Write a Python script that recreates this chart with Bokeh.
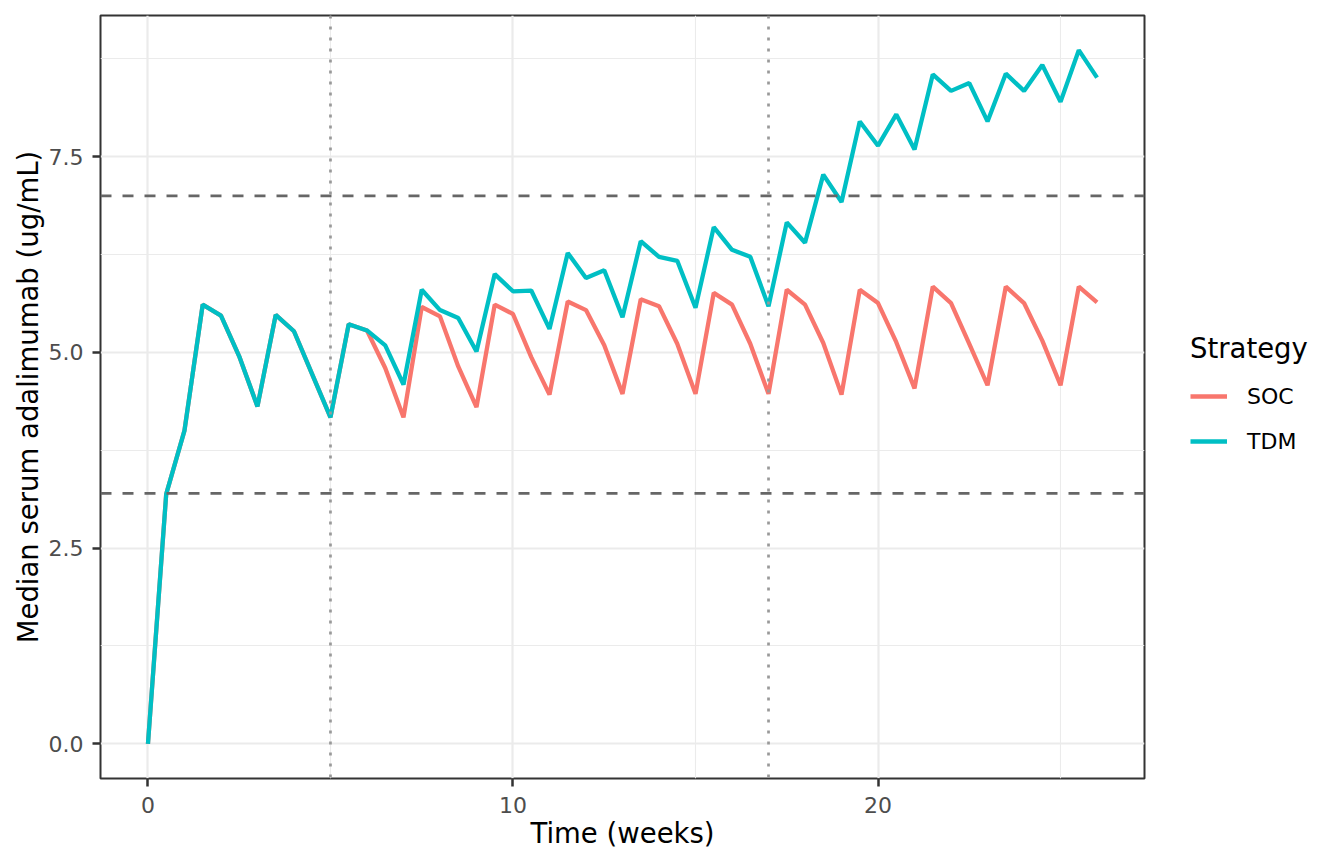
from bokeh.plotting import figure
from bokeh.models import Range1d, FixedTicker, Span, Legend, PrintfTickFormatter
from bokeh.embed import file_html
from bokeh.resources import INLINE

# time in weeks
time = [0, 0.5, 1, 1.5, 2, 2.5, 3, 3.5, 4, 4.5, 5, 5.5, 6, 6.5, 7, 7.5, 8, 8.5, 9,
        9.5, 10, 10.5, 11, 11.5, 12, 12.5, 13, 13.5, 14, 14.5, 15, 15.5, 16, 16.5,
        17, 17.5, 18, 18.5, 19, 19.5, 20, 20.5, 21, 21.5, 22, 22.5, 23, 23.5, 24,
        24.5, 25, 25.5, 26]

soc = [0.0, 3.19, 4.00, 5.61, 5.47, 4.95, 4.31, 5.48, 5.27, 4.72, 4.17, 5.36, 5.28,
       4.80, 4.17, 5.58, 5.46, 4.82, 4.30, 5.61, 5.49, 4.94, 4.46, 5.65, 5.54, 5.09,
       4.47, 5.68, 5.59, 5.11, 4.47, 5.76, 5.61, 5.11, 4.47, 5.80, 5.61, 5.12, 4.46,
       5.80, 5.63, 5.13, 4.54, 5.84, 5.63, 5.11, 4.58, 5.84, 5.63, 5.15, 4.58, 5.84,
       5.64]

tdm = [0.0, 3.19, 4.00, 5.61, 5.47, 4.95, 4.31, 5.48, 5.27, 4.72, 4.17, 5.36, 5.28,
       5.09, 4.59, 5.80, 5.54, 5.44, 5.01, 6.00, 5.78, 5.79, 5.30, 6.27, 5.95, 6.05,
       5.45, 6.42, 6.22, 6.17, 5.57, 6.60, 6.31, 6.22, 5.59, 6.66, 6.40, 7.27, 6.92,
       7.95, 7.64, 8.04, 7.59, 8.55, 8.34, 8.44, 7.95, 8.56, 8.34, 8.67, 8.20, 8.86,
       8.51]

thresholds = [3.2, 7.0]      # dashed horizontal lines
phase_weeks = [5, 17]        # dotted vertical lines

x_ticks = [0, 10, 20]
x_minor = [5, 15, 25]
y_ticks = [0, 2.5, 5, 7.5]
y_minor = [1.25, 3.75, 6.25, 8.75]

FONT = "DejaVu Sans"

p = figure(frame_width=1044, frame_height=763,
           min_border_left=100, min_border_top=15, min_border_right=200,
           min_border_bottom=70,
           x_range=Range1d(-1.3, 27.3), y_range=Range1d(-0.443, 9.303),
           output_backend="svg", toolbar_location=None,
           background_fill_color="white", border_fill_color="white")

p.outline_line_color = "#333333"
p.outline_line_width = 2

p.xaxis.ticker = FixedTicker(ticks=x_ticks, minor_ticks=x_minor)
p.yaxis.ticker = FixedTicker(ticks=y_ticks, minor_ticks=y_minor)
p.yaxis.formatter = PrintfTickFormatter(format="%.1f")

for ax in (p.xaxis, p.yaxis):
    ax.axis_line_color = None
    ax.minor_tick_line_color = None
    ax.major_tick_line_color = "#333333"
    ax.major_tick_line_width = 2.5
    ax.major_tick_in = 0
    ax.major_tick_out = 8
    ax.major_label_text_font = FONT
    ax.major_label_text_font_size = "22px"
    ax.major_label_text_color = "#4D4D4D"
    ax.axis_label_text_font = FONT
    ax.axis_label_text_font_size = "27.5px"
    ax.axis_label_text_font_style = "normal"
    ax.axis_label_text_color = "black"

p.xaxis.major_label_standoff = 10
p.xaxis.axis_label_standoff = 1
p.yaxis.major_label_standoff = 9
p.yaxis.axis_label_standoff = 2

p.xaxis.axis_label = "Time (weeks)"
p.yaxis.axis_label = "Median serum adalimumab (ug/mL)"

for g in (p.xgrid, p.ygrid):
    g.grid_line_color = "#EBEBEB"
    g.grid_line_width = 2.2
    g.minor_grid_line_color = "#EBEBEB"
    g.minor_grid_line_width = 1.1

r_soc = p.line(time, soc, line_color="#F8766D", line_width=4.3)
r_tdm = p.line(time, tdm, line_color="#00BFC4", line_width=4.3)

for h in thresholds:
    p.add_layout(Span(location=h, dimension="width", line_color="#666666",
                      line_width=2.7, line_dash="11 11"))
for v in phase_weeks:
    p.add_layout(Span(location=v, dimension="height", line_color="#999999",
                      line_width=2.7, line_dash="3 8"))

# placed in the right panel, offset from the frame edge and bottom in pixels
legend = Legend(items=[("SOC", [r_soc]), ("TDM", [r_tdm])],
                title="Strategy", location=(46, 317))
legend.title_text_font = FONT
legend.title_text_font_size = "27.5px"
legend.title_text_font_style = "normal"
legend.title_text_color = "black"
legend.title_standoff = 12
legend.label_text_font = FONT
legend.label_text_font_size = "22px"
legend.label_text_color = "black"
legend.label_standoff = 20
legend.glyph_width = 37
legend.glyph_height = 40
legend.label_height = 40
legend.spacing = 5
legend.padding = 10
legend.margin = 0
legend.border_line_color = None
legend.background_fill_alpha = 0
p.add_layout(legend, "right")

open("out.html", "w").write(file_html(p, INLINE))
